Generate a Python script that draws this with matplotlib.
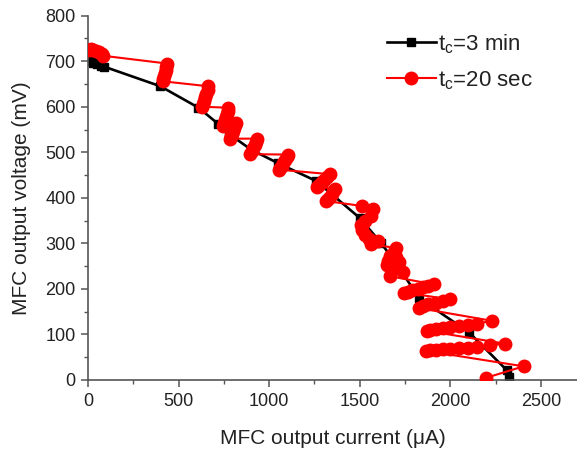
import matplotlib
matplotlib.use("Agg")
import matplotlib.pyplot as plt
from matplotlib.ticker import MultipleLocator

plt.rcParams['font.family'] = ['Liberation Sans', 'DejaVu Sans']
plt.rcParams['mathtext.fontset'] = 'custom'
plt.rcParams['mathtext.rm'] = 'Liberation Sans'
plt.rcParams['mathtext.it'] = 'Liberation Sans'

# t_c = 3 min series
black_current = [0, 15, 30, 50, 70, 90, 400, 610, 720, 780, 900, 1050, 1260,
                 1500, 1620, 1720, 1828, 2105, 2311, 2322]
black_voltage = [705, 700, 697, 694, 690, 688, 645, 598, 562, 540, 506, 476, 437,
                 356, 300, 245, 180, 104, 22, 6]

# t_c = 20 sec series
red_current = [5, 15, 30, 45, 60, 75, 85,
               435, 432, 428, 424, 420, 416, 412,
               665, 660, 654, 648, 642, 636, 630,
               775, 771, 766, 761, 756, 751, 745,
               815, 810, 805, 800, 795, 790, 785,
               935, 928, 920, 912, 904, 896,
               1105, 1097, 1088, 1079, 1070, 1061, 1052,
               1335, 1320, 1305, 1290, 1275, 1262,
               1365, 1355, 1345, 1335, 1325, 1315,
               1515, 1575, 1560, 1530, 1510, 1515, 1530, 1550, 1575, 1600, 1560,
               1700, 1690, 1670, 1655, 1650, 1700, 1715, 1680, 1740, 1665,
               1910, 1880, 1850, 1820, 1790, 1765, 1745,
               2000, 1960, 1920, 1880, 1850, 1825,
               2230, 2150, 2100, 2050, 2000, 1960, 1920, 1890, 1870,
               2300, 2220, 2150, 2100, 2050, 2000, 1960, 1920, 1890, 1865,
               2405, 2200]
red_voltage = [725, 726, 724, 722, 720, 716, 712,
               695, 688, 681, 674, 667, 661, 656,
               645, 637, 629, 621, 613, 606, 600,
               598, 591, 584, 577, 570, 564, 558,
               565, 559, 553, 547, 541, 535, 530,
               530, 523, 516, 509, 502, 496,
               495, 489, 483, 477, 471, 466, 462,
               452, 446, 440, 434, 428, 424,
               420, 414, 408, 402, 397, 393,
               382, 375, 360, 350, 340, 330, 318, 310, 302, 305, 298,
               290, 280, 272, 262, 252, 270, 260, 248, 238, 228,
               210, 207, 204, 200, 197, 194, 192,
               177, 174, 170, 166, 162, 158,
               130, 124, 121, 119, 116, 114, 112, 110, 108,
               80, 76, 73, 71, 70, 68, 67, 66, 65, 64,
               30, 5]

fig = plt.figure(figsize=(5.77, 4.5), dpi=100)
ax = fig.add_axes([88 / 577, 1 - 380 / 450, 1 - 88 / 577, (380 - 15.7) / 450])

ax.plot(black_current, black_voltage, color='black', lw=1.9, marker='s',
        markersize=6, label=r'$\mathregular{t_c}$=3 min', zorder=2)
ax.plot(red_current, red_voltage, color='#ff0000', lw=1.5, marker='o',
        markersize=9, label=r'$\mathregular{t_c}$=20 sec', zorder=3)

ax.set_xlim(0, 2700)
ax.set_ylim(0, 800)
ax.xaxis.set_major_locator(MultipleLocator(500))
ax.xaxis.set_minor_locator(MultipleLocator(250))
ax.yaxis.set_major_locator(MultipleLocator(100))
ax.yaxis.set_minor_locator(MultipleLocator(50))
ax.spines['top'].set_visible(False)
ax.spines['right'].set_visible(False)
for s in ('left', 'bottom'):
    ax.spines[s].set_color('#555555')
    ax.spines[s].set_linewidth(1.2)
ax.tick_params(which='major', direction='out', length=5, width=1.1,
               color='#555555', labelsize=13, labelcolor='#222222', pad=4)
ax.tick_params(which='minor', direction='out', length=3, width=1.0, color='#555555')

ax.set_xlabel('MFC output current (\u03bcA)', fontsize=15, color='#222222', labelpad=14)
ax.set_ylabel('MFC output voltage (mV)', fontsize=15, color='#222222', labelpad=10)

leg = ax.legend(loc='upper left', bbox_to_anchor=((387 - 88) / 489, (380 - 32) / 364.3),
                frameon=False, fontsize=16, handlelength=2.2, handletextpad=0.1,
                labelspacing=0.6, borderpad=0, borderaxespad=0)
for t in leg.get_texts():
    t.set_color('#222222')

fig.savefig('out.png', dpi=100)
